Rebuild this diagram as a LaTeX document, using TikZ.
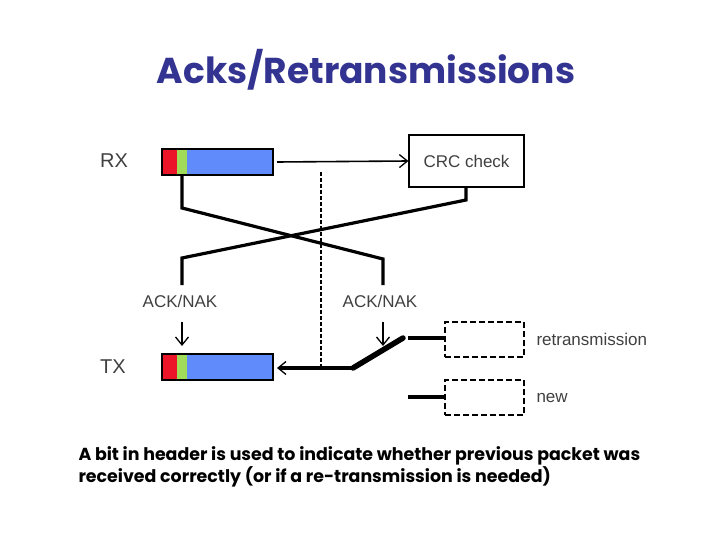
\documentclass[tikz,border=0pt]{standalone}
\usepackage{fontspec}
\setmainfont{Liberation Sans}
\newfontfamily\titlefont{Poppins}
\usetikzlibrary{arrows.meta}
\definecolor{titleblue}{RGB}{51,51,145}
\definecolor{pktred}{RGB}{235,20,40}
\definecolor{pktgreen}{RGB}{160,220,90}
\definecolor{pktblue}{RGB}{95,140,250}
\begin{document}
\begin{tikzpicture}[x=1pt,y=-1pt,
  wire/.style={line width=3.2pt},
  thin/.style={line width=1.6pt},
  barb/.style={-{Straight Barb[length=8pt,width=13pt,line width=1.3pt]}},
  lbl/.style={font=\fontsize{17}{20}\selectfont, text=black!75},
  dbox/.style={draw, line width=2.4pt, dash pattern=on 6pt off 3pt, minimum width=79pt, minimum height=35pt, inner sep=0pt}]
\useasboundingbox (0,0) rectangle (720,540);
% title
\node[font=\titlefont\bfseries\fontsize{36}{42}\selectfont, text=titleblue] (title) at (366,70) {Acks/Retransmissions};
% RX packet
\node[lbl, font=\fontsize{20}{22}\selectfont] (rx) at (114,161) {RX};
\fill[pktred] (162,149) rectangle (177,175);
\fill[pktgreen] (177,149) rectangle (187,175);
\fill[pktblue] (187,149) rectangle (273,175);
\draw[line width=1.6pt] (162,149) rectangle (273,175);
\node[draw, line width=1.2pt, minimum width=115pt, minimum height=52pt, inner sep=0pt, lbl] (crc) at (466.5,161) {CRC check};
\draw[thin, barb] (277,162) -- (crc.west);
% TX packet
\node[lbl, font=\fontsize{20}{22}\selectfont] (tx) at (113,367) {TX};
\fill[pktred] (162,354) rectangle (177,380);
\fill[pktgreen] (177,354) rectangle (187,380);
\fill[pktblue] (187,354) rectangle (273,380);
\draw[line width=1.6pt] (162,354) rectangle (273,380);
% dashed divider
\draw[line width=1.6pt, dash pattern=on 4pt off 2pt] (321,172) -- (321,368);
% crossing wires
\draw[wire] (182,175) -- (182,208) -- (383,259) -- (383,285);
\draw[wire] (crc.south -| 466,0) -- (466,200) -- (182,258) -- (182,285);
% ACK/NAK labels
\node[lbl] (ack1) at (180,301) {ACK/NAK};
\node[lbl] (ack2) at (380,301) {ACK/NAK};
\draw[thin, barb] (182,322) -- (182,346);
\draw[thin, barb] (383,322) -- (383,346);
% switch
\coordinate (piv) at (353,368);
\draw[wire, barb] (piv) -- (277,368);
\draw[line width=5.5pt, line cap=round] (piv) -- (403,338);
% dashed boxes
\node[dbox] (re) at (484.5,339.5) {};
\node[dbox] (nw) at (484.5,397.5) {};
\draw[wire] (408,338) -- (re.west |- 0,338);
\draw[wire] (408,397) -- (nw.west |- 0,397);
\node[lbl, anchor=west] (ret) at (533,339) {retransmission};
\node[lbl, anchor=west] (new) at (533,398) {new};
% caption
\node[anchor=west, align=left, font=\titlefont\bfseries\fontsize{17.4}{22}\selectfont] (cap) at (75,467) {A bit in header is used to indicate whether previous packet was\\received correctly (or if a re-transmission is needed)};
\end{tikzpicture}
\end{document}
